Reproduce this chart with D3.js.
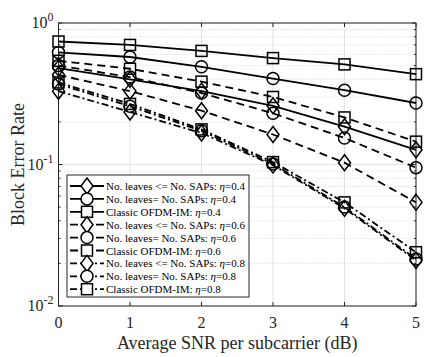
<!DOCTYPE html>
<html lang="en">
<head>
<meta charset="UTF-8">
<title>Block Error Rate</title>
<style>
  body { margin: 0; background: #fff; }
  svg { display: block; }
</style>
</head>
<body>
<svg id="chart" width="436" height="357" font-family="'Liberation Serif', 'Times New Roman', Times, 'DejaVu Serif', serif"></svg>
<script src="https://d3js.org/d3.v7.min.js"></script>
<script>
// --- data ---
const snr = [0, 1, 2, 3, 4, 5];
const seriesNames = [
  "No. leaves <= No. SAPs: \u03B7=0.4",
  "No. leaves= No. SAPs: \u03B7=0.4",
  "Classic OFDM-IM: \u03B7=0.4",
  "No. leaves <= No. SAPs: \u03B7=0.6",
  "No. leaves= No. SAPs: \u03B7=0.6",
  "Classic OFDM-IM: \u03B7=0.6",
  "No. leaves <= No. SAPs: \u03B7=0.8",
  "No. leaves= No. SAPs: \u03B7=0.8",
  "Classic OFDM-IM: \u03B7=0.8"
];
const markers = ["diamond", "circle", "square", "diamond", "circle", "square", "diamond", "circle", "square"];
const dashes = ["", "", "", "8,5", "8,5", "8,5", "7,3,2,3", "7,3,2,3", "7,3,2,3"];

const bler04Leq  = [0.48, 0.40, 0.33, 0.26, 0.185, 0.127];
const bler04Eq   = [0.62, 0.575, 0.49, 0.405, 0.335, 0.272];
const bler04Cls  = [0.74, 0.70, 0.635, 0.565, 0.51, 0.435];
const bler06Leq  = [0.43, 0.33, 0.24, 0.163, 0.103, 0.054];
const bler06Eq   = [0.50, 0.415, 0.32, 0.23, 0.154, 0.095];
const bler06Cls  = [0.54, 0.475, 0.385, 0.30, 0.215, 0.145];
const bler08Leq  = [0.33, 0.235, 0.167, 0.099, 0.049, 0.021];
const bler08Eq   = [0.37, 0.258, 0.173, 0.101, 0.05, 0.0215];
const bler08Cls  = [0.38, 0.268, 0.177, 0.104, 0.054, 0.024];
const allSeries = [bler04Leq, bler04Eq, bler04Cls, bler06Leq, bler06Eq, bler06Cls, bler08Leq, bler08Eq, bler08Cls];

const xTicks = [0, 1, 2, 3, 4, 5];
const yDecades = [-2, -1, 0];

// --- layout ---
const svg = d3.select("#chart");
const pL = 58.5, pR = 416, pT = 23, pB = 306;

const x = d3.scaleLinear().domain([0, 5]).range([pL, pR]);
const y = d3.scaleLog().domain([0.01, 1]).range([pB, pT]);

// minor grid (dotted)
const minorVals = [];
[0.01, 0.1].forEach(b => { for (let k = 2; k <= 9; k++) minorVals.push(b * k); });
svg.append("g").selectAll("line").data(minorVals).join("line")
  .attr("x1", pL).attr("x2", pR)
  .attr("y1", d => y(d)).attr("y2", d => y(d))
  .attr("stroke", "#c8c8c8").attr("stroke-width", 0.8).attr("stroke-dasharray", "1,2");

// major grid
svg.append("g").selectAll("line").data(xTicks).join("line")
  .attr("x1", d => x(d)).attr("x2", d => x(d))
  .attr("y1", pT).attr("y2", pB)
  .attr("stroke", "#e3e3e3").attr("stroke-width", 1);
svg.append("g").selectAll("line").data(yDecades).join("line")
  .attr("x1", pL).attr("x2", pR)
  .attr("y1", d => y(Math.pow(10, d))).attr("y2", d => y(Math.pow(10, d)))
  .attr("stroke", "#e3e3e3").attr("stroke-width", 1);

// box
svg.append("rect")
  .attr("x", pL).attr("y", pT).attr("width", pR - pL).attr("height", pB - pT)
  .attr("fill", "none").attr("stroke", "#262626").attr("stroke-width", 1);

// ticks (inward)
const tk = svg.append("g").attr("stroke", "#262626").attr("stroke-width", 1);
xTicks.forEach(d => {
  tk.append("line").attr("x1", x(d)).attr("x2", x(d)).attr("y1", pB).attr("y2", pB - 4);
  tk.append("line").attr("x1", x(d)).attr("x2", x(d)).attr("y1", pT).attr("y2", pT + 4);
});
yDecades.forEach(d => {
  const yy = y(Math.pow(10, d));
  tk.append("line").attr("x1", pL).attr("x2", pL + 4).attr("y1", yy).attr("y2", yy);
  tk.append("line").attr("x1", pR).attr("x2", pR - 4).attr("y1", yy).attr("y2", yy);
});
minorVals.forEach(v => {
  tk.append("line").attr("x1", pL).attr("x2", pL + 2).attr("y1", y(v)).attr("y2", y(v));
  tk.append("line").attr("x1", pR).attr("x2", pR - 2).attr("y1", y(v)).attr("y2", y(v));
});

// tick labels
svg.append("g").selectAll("text").data(xTicks).join("text")
  .attr("x", d => x(d)).attr("y", pB + 22)
  .attr("text-anchor", "middle").attr("font-size", 16).attr("fill", "#262626")
  .text(d => d);
const yl = svg.append("g").selectAll("text").data(yDecades).join("text")
  .attr("x", pL - 5).attr("y", d => y(Math.pow(10, d)) + 5)
  .attr("text-anchor", "end").attr("font-size", 16).attr("fill", "#262626");
yl.append("tspan").text("10");
yl.append("tspan").attr("dy", -7).attr("font-size", 12).text(d => d);

// axis titles
svg.append("text").attr("x", (pL + pR) / 2).attr("y", 349)
  .attr("text-anchor", "middle").attr("font-size", 18).attr("fill", "#262626")
  .text("Average SNR per subcarrier (dB)");
svg.append("text").attr("transform", `translate(24,${(pT + pB) / 2}) rotate(-90)`)
  .attr("text-anchor", "middle").attr("font-size", 18).attr("fill", "#262626")
  .text("Block Error Rate");

// marker drawing
function drawMarker(g, type, cx, cy) {
  if (type === "circle") {
    g.append("circle").attr("cx", cx).attr("cy", cy).attr("r", 6);
  } else if (type === "square") {
    g.append("rect").attr("x", cx - 5.5).attr("y", cy - 5.5).attr("width", 11).attr("height", 11);
  } else {
    g.append("path").attr("d", `M${cx},${cy - 8}L${cx + 6},${cy}L${cx},${cy + 8}L${cx - 6},${cy}Z`);
  }
}

const line = d3.line().x((d, i) => x(snr[i])).y(d => y(d));
const plot = svg.append("g");
allSeries.forEach((vals, s) => {
  plot.append("path").datum(vals)
    .attr("d", line).attr("fill", "none").attr("stroke", "#000")
    .attr("stroke-width", 1.8).attr("stroke-dasharray", dashes[s] || null);
  const mg = plot.append("g").attr("fill", "none").attr("stroke", "#000").attr("stroke-width", 1.5);
  vals.forEach((v, i) => drawMarker(mg, markers[s], x(snr[i]), y(v)));
});

// legend
const lgX = 67, lgY = 175, lgW = 182, lgH = 122, rowH = 12.9;
const lg = svg.append("g");
lg.append("rect").attr("x", lgX).attr("y", lgY).attr("width", lgW).attr("height", lgH)
  .attr("fill", "#fff").attr("stroke", "#262626").attr("stroke-width", 1);
seriesNames.forEach((name, s) => {
  const ry = lgY + 11 + s * rowH;
  lg.append("line").attr("x1", lgX + 3).attr("x2", lgX + 37).attr("y1", ry).attr("y2", ry)
    .attr("stroke", "#000").attr("stroke-width", 1.8).attr("stroke-dasharray", dashes[s] || null);
  const mg = lg.append("g").attr("fill", "#fff").attr("stroke", "#000").attr("stroke-width", 1.5);
  drawMarker(mg, markers[s], lgX + 20, ry);
  const t = lg.append("text").attr("x", lgX + 39).attr("y", ry + 4)
    .attr("font-size", 11).attr("fill", "#000");
  const parts = name.split("\u03B7");
  t.append("tspan").text(parts[0]);
  t.append("tspan").attr("font-style", "italic").text("\u03B7");
  t.append("tspan").text(parts[1]);
});
</script>
</body>
</html>
